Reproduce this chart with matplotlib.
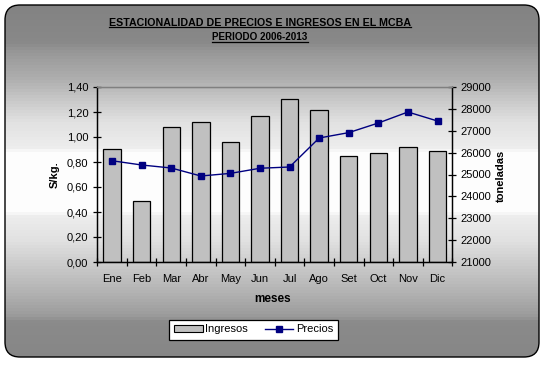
import numpy as np
import matplotlib
matplotlib.use("Agg")
import matplotlib.pyplot as plt
from matplotlib.patches import FancyBboxPatch, Patch, Rectangle
from matplotlib.lines import Line2D

plt.rcParams['font.family'] = ['Liberation Sans', 'DejaVu Sans']

# data
meses = ['Ene', 'Feb', 'Mar', 'Abr', 'May', 'Jun', 'Jul', 'Ago', 'Set', 'Oct', 'Nov', 'Dic']
ingresos = [26150, 23800, 27190, 27410, 26470, 27680, 28440, 27935, 25830, 25970, 26240, 26060]
precios = [0.81, 0.776, 0.752, 0.688, 0.709, 0.75, 0.76, 0.992, 1.035, 1.112, 1.20, 1.128]
left_ticks = [0.0, 0.2, 0.4, 0.6, 0.8, 1.0, 1.2, 1.4]
right_ticks = list(range(21000, 29001, 1000))

W, H = 547, 365
fig = plt.figure(figsize=(W / 100, H / 100), dpi=100)
fig.patch.set_facecolor('white')

# background: banded grey gradient inside a rounded frame
bg = fig.add_axes([0, 0, 1, 1])
bg.set_xlim(0, W)
bg.set_ylim(H, 0)
bg.axis('off')
knots_y = [5, 42, 50, 62, 80, 100, 122, 150, 151, 213, 214, 240, 262, 290, 315, 322, 357]
knots_v = [130, 136, 148, 160, 175, 200, 225, 238, 253, 253, 238, 225, 205, 180, 155, 138, 134]
frame = FancyBboxPatch((5, 5), 534, 352, boxstyle="round,pad=0,rounding_size=15",
                       fc='none', ec='black', lw=1.0, zorder=3)
bg.add_patch(frame)
band = 3
for y0 in range(5, 357, band):
    v = np.interp(y0 + band / 2, knots_y, knots_v) / 255
    rect = Rectangle((5, y0), 534, band, fc=(v, v, v), ec='none', lw=0,
                     antialiased=False, zorder=1)
    bg.add_patch(rect)
    rect.set_clip_path(frame)

# main axes
ax = fig.add_axes([97.3 / W, 1 - 262 / H, 355 / W, 175 / H])
ax2 = ax.twinx()
x = np.arange(len(meses))

ax2.bar(x, [v - 21000 for v in ingresos], bottom=21000, width=0.59,
        color='#c0c0c0', edgecolor='black', linewidth=0.9, zorder=2)
ax2.set_ylim(21000, 29000)
ax2.set_yticks(right_ticks)

ax.plot(x, precios, color='#000080', lw=1.0, marker='s', ms=4.5, zorder=5)
ax.set_ylim(0, 1.4)
ax.set_yticks(left_ticks)
ax.set_yticklabels([f"{v:.2f}".replace('.', ',') for v in left_ticks])
ax.set_xlim(-0.5, len(meses) - 0.5)
ax.set_xticks(x)
ax.set_xticklabels(meses)
ax.set_xticks(np.arange(-0.5, len(meses), 1.0), minor=True)
ax.tick_params(axis='x', which='major', length=0, pad=9, labelsize=8)
ax.tick_params(axis='x', which='minor', direction='inout', length=6, width=0.9)
ax.tick_params(axis='y', direction='inout', length=6, width=0.9, pad=3.5, labelsize=8)
ax2.tick_params(axis='y', direction='inout', length=6, width=0.9, pad=2.5, labelsize=8)

ax.set_zorder(ax2.get_zorder() + 1)
ax.patch.set_visible(False)
ax2.patch.set_visible(False)
for a in (ax, ax2):
    a.spines['top'].set_color('#808080')
    a.spines['top'].set_linewidth(0.9)
    for s in ('left', 'right', 'bottom'):
        a.spines[s].set_linewidth(0.9)

fig.text(55 / W, 1 - 175 / H, 'S/kg.', rotation=90, ha='center', va='center',
         fontsize=8, fontweight='bold')
fig.text(501 / W, 1 - 176 / H, 'toneladas', rotation=90, ha='center', va='center',
         fontsize=8, fontweight='bold')
fig.text(273 / W, 1 - 299 / H, 'meses', ha='center', va='center',
         fontsize=8.5, fontweight='bold')

t1 = fig.text(260 / W, 1 - 23 / H, 'ESTACIONALIDAD DE PRECIOS E INGRESOS EN EL MCBA',
              ha='center', va='center', fontsize=7.7, fontweight='bold')
t2 = fig.text(260 / W, 1 - 37.5 / H, 'PERIODO 2006-2013', ha='center', va='center',
              fontsize=7.1, fontweight='bold')

handles = [Patch(facecolor='#c0c0c0', edgecolor='black', linewidth=0.8),
           Line2D([], [], color='#000080', lw=1.0, marker='s', ms=4.5)]
leg = fig.legend(handles, ['Ingresos', 'Precios'], loc='center',
                 bbox_to_anchor=(253.5 / W, 1 - 329.5 / H), ncol=2, fontsize=8,
                 frameon=True, fancybox=False, edgecolor='black', framealpha=1,
                 handlelength=2.6, handleheight=0.6, columnspacing=1.5,
                 handletextpad=0.2, borderpad=0.45)
leg.get_frame().set_linewidth(0.9)

# underline the titles
fig.canvas.draw()
r = fig.canvas.get_renderer()
for t in (t1, t2):
    bb = t.get_window_extent(r)
    y0 = bb.y0 + 1
    fig.add_artist(Line2D([bb.x0 / W, bb.x1 / W], [y0 / H, y0 / H], color='black', lw=0.9,
                          transform=fig.transFigure))

fig.savefig('out.png', dpi=100)
